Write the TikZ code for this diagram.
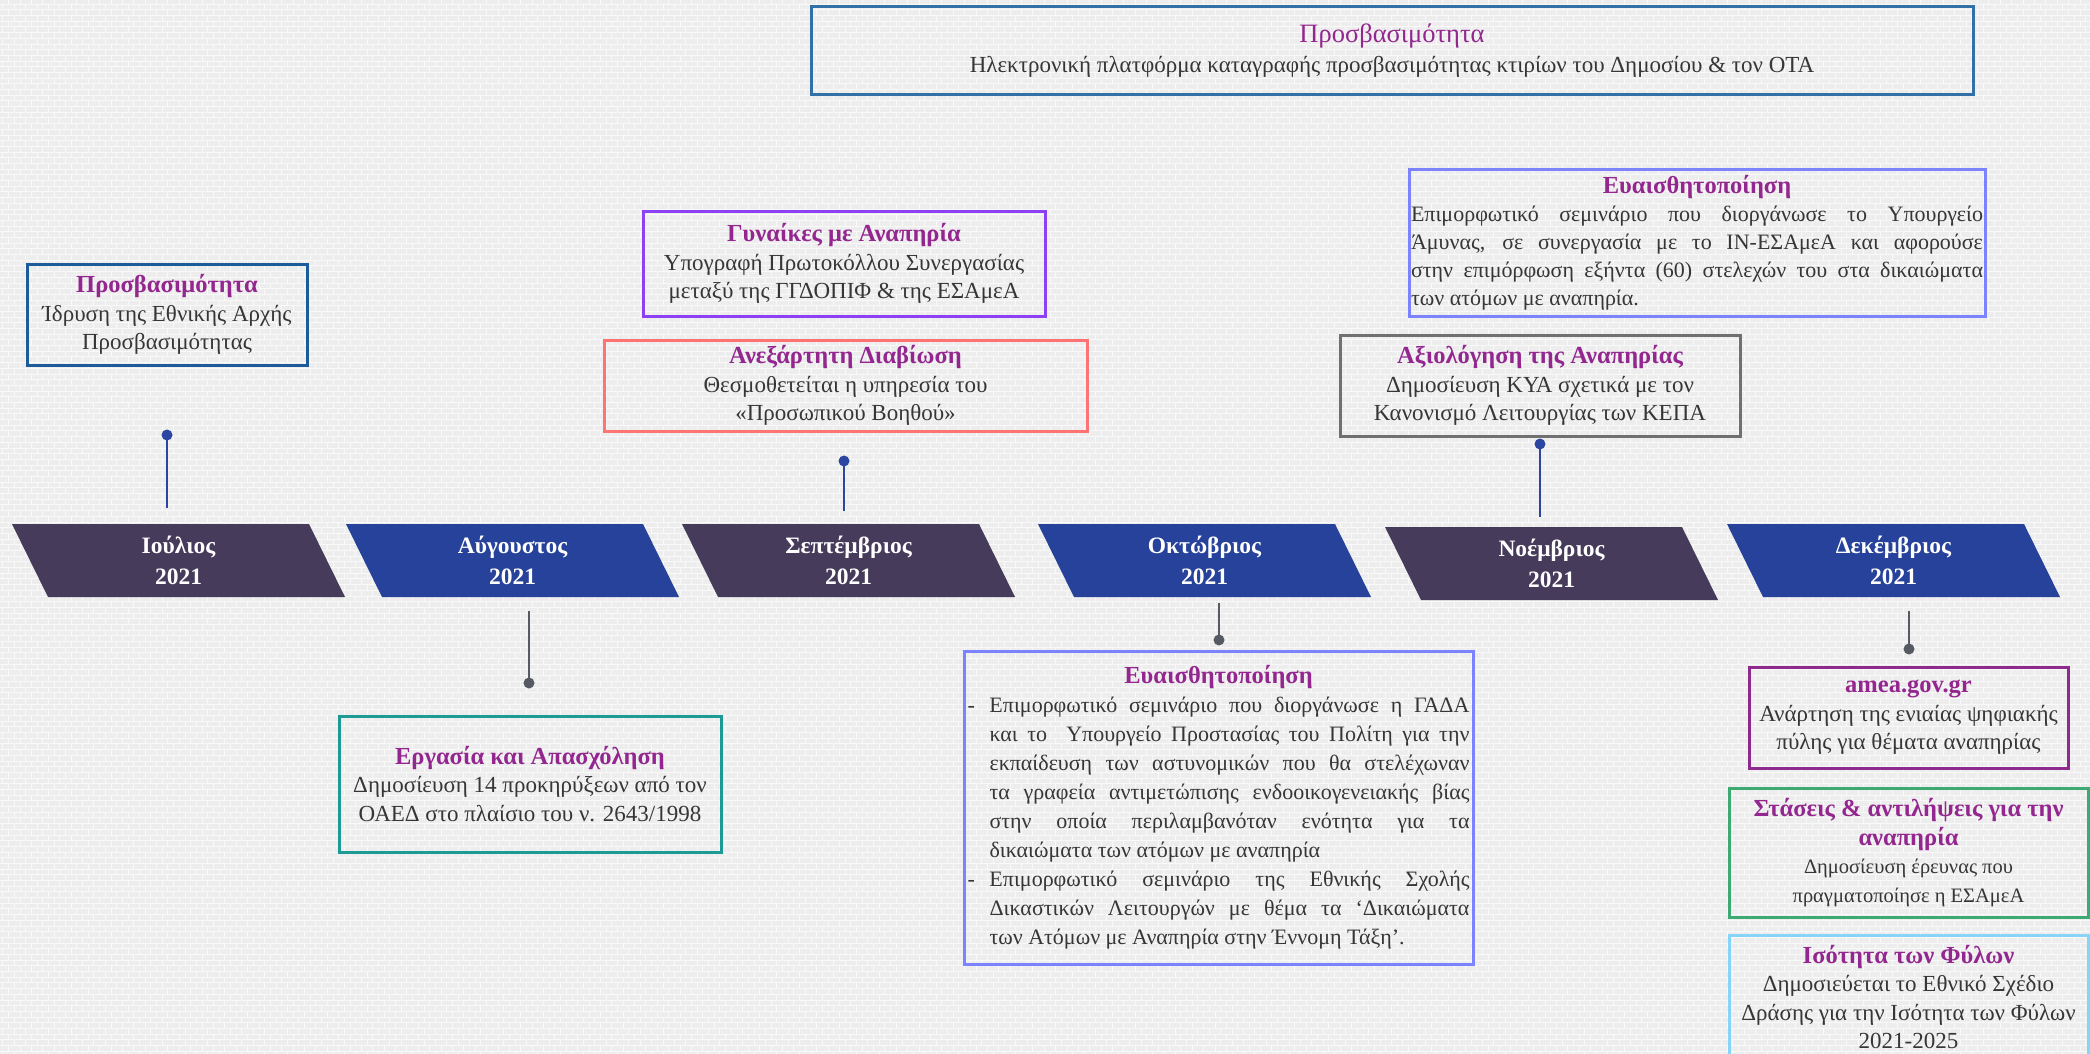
\documentclass[tikz,border=0pt]{standalone}
\usepackage{fontspec}
\setmainfont{Liberation Serif}
\usetikzlibrary{patterns}
\definecolor{bgc}{HTML}{EDEDED}
\definecolor{titlec}{HTML}{93278F}
\definecolor{bodyc}{HTML}{363636}
\definecolor{mdark}{HTML}{463B5B}
\definecolor{mblue}{HTML}{26429A}
\definecolor{stblue}{HTML}{2B45A0}
\definecolor{stgray}{HTML}{555A63}
\definecolor{cA}{HTML}{3470A8}
\definecolor{cB}{HTML}{1C5C9A}
\definecolor{cC}{HTML}{8C42F4}
\definecolor{cD}{HTML}{FF7373}
\definecolor{cE}{HTML}{7D82FF}
\definecolor{cF}{HTML}{707070}
\definecolor{cG}{HTML}{1E9A96}
\definecolor{cI}{HTML}{8E2A8E}
\definecolor{cJ}{HTML}{3DAA73}
\definecolor{cK}{HTML}{86D4F7}
\newcommand\ttl[1]{{\fontsize{24.5}{28.5}\selectfont\bfseries\color{titlec}#1}}
\newcommand\jline[2]{\makebox[#1pt][s]{#2}}
\newcommand\lline[2]{\makebox[#1pt][l]{#2}}
\newcommand\paragr[3]{\fill[#1] (#2,#3) -- ++(297,0) -- ++(36,73) -- ++(-297,0) -- cycle;}
\begin{document}
\begin{tikzpicture}[x=1pt,y=-1pt,
  box/.style={draw, line width=3pt, inner sep=0pt, align=center, text=bodyc,
    font=\fontsize{23}{28.5}\selectfont},
  mon/.style={text=white, align=center, font=\fontsize{23.5}{31}\selectfont\bfseries},
  stalk/.style={line width=2.5pt},
  dotc/.style={radius=5.5}]
\useasboundingbox (0,0) rectangle (2090,1054);
\fill[bgc] (0,0) rectangle (2090,1054);
\fill[pattern=bricks, pattern color=white, opacity=0.7] (0,0) rectangle (2090,1054);

% month bands
\paragr{mdark}{12}{524}
\paragr{mblue}{346}{524}
\paragr{mdark}{682}{524}
\paragr{mblue}{1038}{524}
\paragr{mdark}{1385}{527}
\paragr{mblue}{1727}{524}
\node[mon] (m1) at (178.5,560) {Ιούλιος\\2021};
\node[mon] (m2) at (512.5,560) {Αύγουστος\\2021};
\node[mon] (m3) at (848.5,560) {Σεπτέμβριος\\2021};
\node[mon] (m4) at (1204.5,560) {Οκτώβριος\\2021};
\node[mon] (m5) at (1551.5,563) {Νοέμβριος\\2021};
\node[mon] (m6) at (1893.5,560) {Δεκέμβριος\\2021};

% stalks
\coordinate (d1) at (167,435); \coordinate (e1) at (167,508);
\coordinate (d2) at (529,683); \coordinate (e2) at (529,611);
\coordinate (d3) at (844,461); \coordinate (e3) at (844,511);
\coordinate (d4) at (1219,640); \coordinate (e4) at (1219,603);
\coordinate (d5) at (1540,444); \coordinate (e5) at (1540,517);
\coordinate (d6) at (1909,649); \coordinate (e6) at (1909,611);
\draw[stalk, stblue] (d1) -- (e1); \fill[stblue] (d1) circle[dotc];
\draw[stalk, stgray] (e2) -- (d2); \fill[stgray] (d2) circle[dotc];
\draw[stalk, stblue] (d3) -- (e3); \fill[stblue] (d3) circle[dotc];
\draw[stalk, stgray] (e4) -- (d4); \fill[stgray] (d4) circle[dotc];
\draw[stalk, stblue] (d5) -- (e5); \fill[stblue] (d5) circle[dotc];
\draw[stalk, stgray] (e6) -- (d6); \fill[stgray] (d6) circle[dotc];

% boxes
\node[box, draw=cA, minimum width=1162, minimum height=88, font=\fontsize{23}{30}\selectfont] (bA) at (1392,51)
  {{\fontsize{26.5}{30}\selectfont\color{titlec}Προσβασιμότητα}\\
   Ηλεκτρονική πλατφόρμα καταγραφής προσβασιμότητας κτιρίων του Δημοσίου \& τον ΟΤΑ};
\node[box, draw=cB, minimum width=280, minimum height=101] (bB) at (167,314.5)
  {\ttl{Προσβασιμότητα}\\Ίδρυση της Εθνικής Αρχής\\Προσβασιμότητας};
\node[box, draw=cC, minimum width=402, minimum height=105] (bC) at (844,263.5)
  {\ttl{Γυναίκες με Αναπηρία}\\Υπογραφή Πρωτοκόλλου Συνεργασίας\\μεταξύ της ΓΓΔΟΠΙΦ \& της ΕΣΑμεΑ};
\node[box, draw=cD, minimum width=483, minimum height=91] (bD) at (845.5,385.5)
  {\ttl{Ανεξάρτητη Διαβίωση}\\Θεσμοθετείται η υπηρεσία του\\«Προσωπικού Βοηθού»};
\node[box, draw=cE, minimum width=576, minimum height=147, font=\fontsize{22}{28}\selectfont] (bE) at (1697,242.5)
  {\ttl{Ευαισθητοποίηση}\\
   \jline{572}{Επιμορφωτικό σεμινάριο που διοργάνωσε το Υπουργείο}\\
   \jline{572}{Άμυνας, σε συνεργασία με το ΙΝ-ΕΣΑμεΑ και αφορούσε}\\
   \jline{572}{στην επιμόρφωση εξήντα (60) στελεχών του στα δικαιώματα}\\
   \lline{572}{των ατόμων με αναπηρία.}};
\node[box, draw=cF, minimum width=400, minimum height=101] (bF) at (1540,385.5)
  {\ttl{Αξιολόγηση της Αναπηρίας}\\Δημοσίευση ΚΥΑ σχετικά με τον\\Κανονισμό Λειτουργίας των ΚΕΠΑ};
\node[box, draw=cG, minimum width=382, minimum height=136] (bG) at (530,784)
  {\ttl{Εργασία και Απασχόληση}\\Δημοσίευση 14 προκηρύξεων από τον\\ΟΑΕΔ στο πλαίσιο του ν. 2643/1998};
\node[box, draw=cE, minimum width=509, minimum height=313, font=\fontsize{22}{29}\selectfont] (bH) at (1218.5,807.5)
  {\ttl{Ευαισθητοποίηση}\\
   \lline{22}{-}\jline{480}{Επιμορφωτικό σεμινάριο που διοργάνωσε η ΓΑΔΑ}\\
   \lline{22}{}\jline{480}{και το \ Υπουργείο Προστασίας του Πολίτη για την}\\
   \lline{22}{}\jline{480}{εκπαίδευση των αστυνομικών που θα στελέχωναν}\\
   \lline{22}{}\jline{480}{τα γραφεία αντιμετώπισης ενδοοικογενειακής βίας}\\
   \lline{22}{}\jline{480}{στην οποία περιλαμβανόταν ενότητα για τα}\\
   \lline{22}{}\lline{480}{δικαιώματα των ατόμων με αναπηρία}\\
   \lline{22}{-}\jline{480}{Επιμορφωτικό σεμινάριο της Εθνικής Σχολής}\\
   \lline{22}{}\jline{480}{Δικαστικών Λειτουργών με θέμα τα ‘Δικαιώματα}\\
   \lline{22}{}\lline{480}{των Ατόμων με Αναπηρία στην Έννομη Τάξη’.}};
\node[box, draw=cI, minimum width=319, minimum height=101] (bI) at (1908.5,717.5)
  {\ttl{amea.gov.gr}\\Ανάρτηση της ενιαίας ψηφιακής\\πύλης για θέματα αναπηρίας};
\node[box, draw=cJ, minimum width=359, minimum height=129, font=\fontsize{20.5}{28.5}\selectfont] (bJ) at (1908.5,852.5)
  {\ttl{Στάσεις \& αντιλήψεις για την}\\\ttl{αναπηρία}\\Δημοσίευση έρευνας που\\πραγματοποίησε η ΕΣΑμεΑ};
\node[box, draw=cK, minimum width=359, minimum height=124] (bK) at (1908.5,997)
  {\ttl{Ισότητα των Φύλων}\\Δημοσιεύεται το Εθνικό Σχέδιο\\Δράσης για την Ισότητα των Φύλων\\2021-2025};
\end{tikzpicture}
\end{document}
